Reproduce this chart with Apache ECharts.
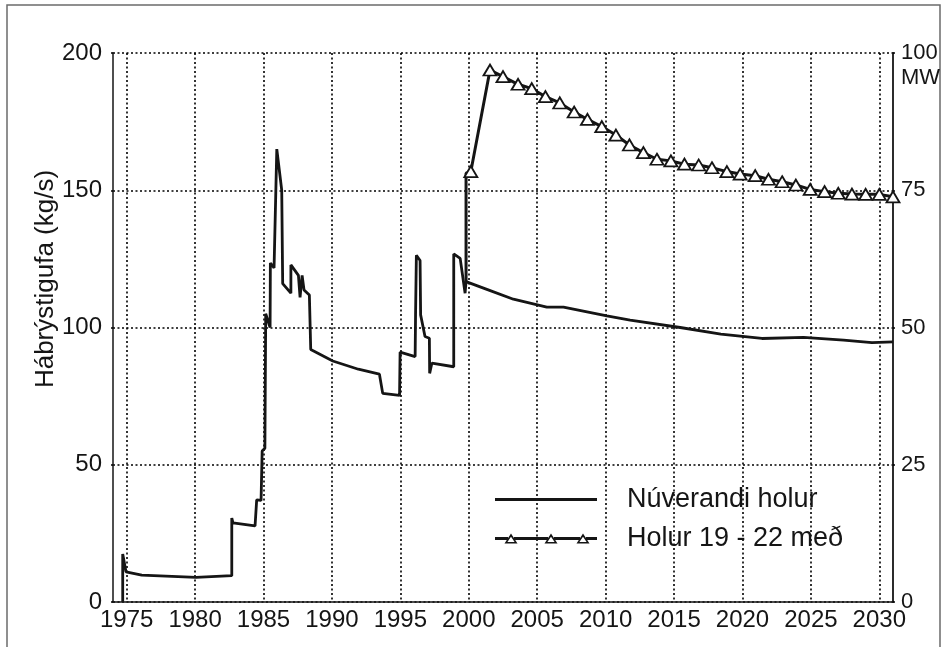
<!DOCTYPE html>
<html><head><meta charset="utf-8">
<script src="https://cdn.jsdelivr.net/npm/echarts@6/dist/echarts.min.js"></script>
<style>html,body{margin:0;padding:0;background:#fff}#c{width:948px;height:647px}</style>
</head><body><div id="c"></div>
<script>
// ---- data ----
const xTickYears = [1975,1980,1985,1990,1995,2000,2005,2010,2015,2020,2025,2030];
const leftTicks = [0,50,100,150,200];
const rightTicks = [0,25,50,75,100];
const rightUnit = 'MW';
const yName = 'Hábrýstigufa (kg/s)';
const seriesNames = ['Núverandi holur', 'Holur 19 - 22 með'];

const nuverandiYears = [1974.71,1974.71,1974.95,1976.1,1980.07,1982.68,1982.68,1982.77,1984.38,1984.5,1984.82,1984.9,1985.1,1985.16,1985.48,1985.5,1985.77,1985.97,1986.33,1986.4,1987.0,1987.0,1987.55,1987.67,1987.82,1987.96,1988.35,1988.45,1990.06,1991.93,1993.47,1993.71,1994.94,1994.98,1996.08,1996.11,1996.17,1996.44,1996.48,1996.8,1997.12,1997.14,1997.3,1998.9,1998.9,1999.37,1999.73,1999.8,2001.32,2003.26,2005.7,2006.92,2010.09,2011.79,2015.45,2018.42,2021.42,2024.46,2027.39,2029.46,2031.0];
const nuverandiValues = [0,17.5,11,9.8,9.0,9.6,30.6,28.8,27.7,37.2,37,55,56,105,100,123.5,121.7,165,150,116,112.5,122.8,119,111,119,113.7,111.8,92,87.8,84.8,83,76,75.3,91,89.4,104.6,126.3,124.4,104.6,96.7,96.1,83.3,87,85.7,126.8,125.2,112.5,116.7,113.9,110.3,107.4,107.4,104.2,102.7,100,97.6,96,96.4,95.4,94.5,94.8];

const holurYears = [1999.8,1999.8,2000.15,2001.55,2002.5,2003.6,2004.6,2005.6,2006.65,2007.7,2008.67,2009.72,2010.75,2011.74,2012.76,2013.75,2014.77,2015.76,2016.8,2017.77,2018.86,2019.83,2020.93,2021.9,2022.9,2023.9,2024.95,2026.0,2027.0,2028.0,2029.0,2030.0,2031.0];
const holurValues = [116.7,156.2,156.8,193.8,191.4,188.6,187.0,184.1,181.8,178.5,175.8,173.2,170.1,166.5,163.7,161.3,160.7,159.5,159.2,158.2,156.8,155.9,155.3,154.0,153.1,151.9,150.3,149.5,148.9,148.6,148.5,148.5,147.6];
const holurUnmarked = 2; // first points (branch from existing line) carry no marker

// ---- chart ----
const FONT = 'Liberation Sans, Arial, sans-serif';
const INK = '#151515';
const dotted = {color: '#000', width: 1.6, type: [2, 2.5]};

function legendLinePath() {
  // line across the icon box; an invisible sliver keeps the full box height
  return 'path://M0 3.5H102V6.5H0Z M0 0H0.01V10H0Z';
}
function legendTrianglesPath() {
  const cxs = [16, 56, 88];
  let p = '';
  let start = 0;
  cxs.forEach(cx => { p += `M${start} 3.6H${cx-3}V6.4H${start}Z`; start = cx + 3; });
  p += `M${start} 3.6H102V6.4H${start}Z`;
  cxs.forEach(cx => {
    p += `M${cx-6.5} 10L${cx} 0L${cx+6.5} 10Z`;
    p += `M${cx-3.6} 8.5L${cx+3.6} 8.5L${cx} 3.2Z`;
  });
  return 'path://' + p;
}

const chart = echarts.init(document.getElementById('c'), null, {renderer: 'canvas'});
chart.setOption({
  animation: false,
  backgroundColor: '#fff',
  textStyle: {fontFamily: FONT},
  grid: {left: 113, top: 53, right: 55, bottom: 45},
  xAxis: {
    type: 'value', min: 1974, max: 2031,
    axisLine: {show: true, onZero: false, lineStyle: {color: INK, width: 1.5}},
    axisTick: {show: false, customValues: xTickYears},
    axisLabel: {customValues: xTickYears, formatter: v => String(v), color: INK, fontSize: 24, fontFamily: FONT, margin: 6},
    splitLine: {show: true, lineStyle: dotted}
  },
  yAxis: [{
    type: 'value', min: leftTicks[0], max: leftTicks[leftTicks.length-1], interval: 50,
    axisLine: {show: true, lineStyle: {color: INK, width: 1.5}},
    axisTick: {show: true, length: 4, lineStyle: dotted},
    axisLabel: {color: INK, fontSize: 24, fontFamily: FONT, margin: 11},
    splitLine: {show: true, lineStyle: dotted}
  }, {
    type: 'value', position: 'right', min: rightTicks[0], max: rightTicks[rightTicks.length-1], interval: 25,
    axisLine: {show: true, lineStyle: {color: INK, width: 1.8}},
    axisTick: {show: true, length: 4, lineStyle: dotted},
    axisLabel: {color: INK, fontSize: 22, fontFamily: FONT, margin: 8},
    splitLine: {show: false}
  }],
  legend: {
    left: 495, top: 486, orient: 'vertical', padding: 0,
    itemWidth: 102, itemHeight: 10, itemGap: 12,
    symbolKeepAspect: false,
    textStyle: {fontSize: 27, color: INK, fontFamily: FONT, lineHeight: 26, padding: [0, 0, 0, 25]},
    data: [
      {name: seriesNames[0], icon: legendLinePath(), itemStyle: {color: INK, borderWidth: 0}},
      {name: seriesNames[1], icon: legendTrianglesPath(), itemStyle: {color: INK, borderWidth: 0}}
    ]
  },
  graphic: [
    {type: 'rect', silent: true, shape: {x: 7, y: 5, width: 933, height: 700},
     style: {fill: 'none', stroke: '#6b6b6b', lineWidth: 1.5}},
    {type: 'text', silent: true, x: 46, y: 279, rotation: Math.PI / 2,
     style: {text: yName, font: '26px ' + FONT, fill: INK, align: 'center', verticalAlign: 'middle'}},
    {type: 'text', silent: true, x: 901, y: 78,
     style: {text: rightUnit, font: '22px ' + FONT, fill: INK, align: 'left', verticalAlign: 'middle'}}
  ],
  series: [{
    name: seriesNames[0], type: 'line', yAxisIndex: 0,
    data: nuverandiYears.map((y, i) => [y, nuverandiValues[i]]),
    symbol: 'none', lineStyle: {color: INK, width: 2.8}, itemStyle: {color: INK},
    z: 2
  }, {
    name: seriesNames[1], type: 'line', yAxisIndex: 0,
    data: holurYears.map((y, i) => i < holurUnmarked ? {value: [y, holurValues[i]], symbol: 'none'} : [y, holurValues[i]]),
    symbol: 'triangle', symbolSize: [13, 11], showSymbol: true,
    lineStyle: {color: INK, width: 3},
    itemStyle: {color: '#fff', borderColor: INK, borderWidth: 1.8},
    z: 3
  }]
});
</script>
</body></html>
